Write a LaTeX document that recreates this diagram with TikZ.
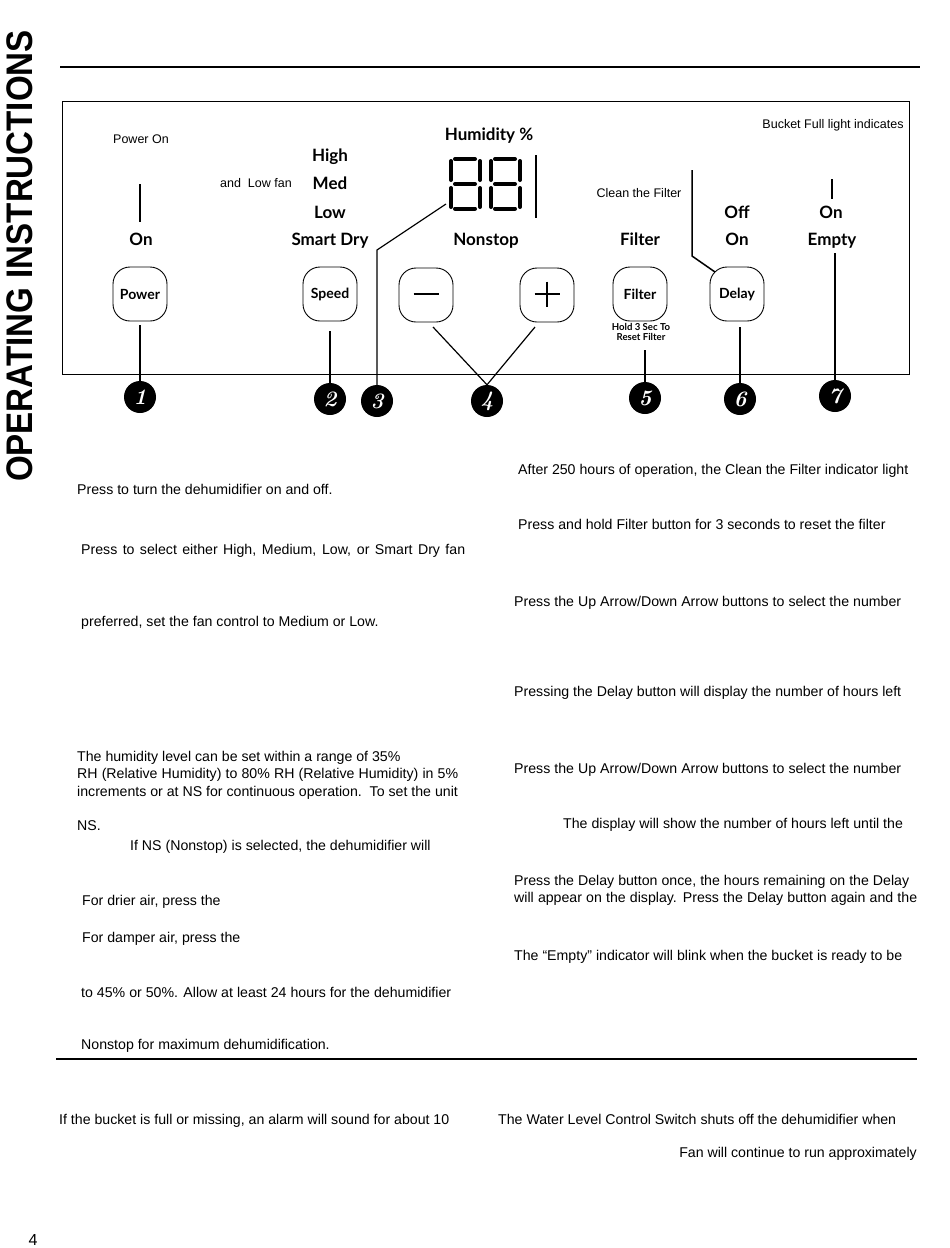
\documentclass[tikz,border=0pt]{standalone}
\usepackage{fontspec}
\newfontfamily\bodyf{Liberation Sans}
\newfontfamily\panelf{Lato}
\tikzset{
 body/.style={font=\bodyf\fontsize{14.15}{17}\selectfont, inner sep=0pt, anchor=base west},
 note/.style={font=\bodyf\fontsize{12.5}{15}\selectfont, inner sep=0pt, anchor=base},
 lbl/.style={font=\panelf\bfseries\fontsize{17}{19}\selectfont, inner sep=0pt, anchor=base},
 btn/.style={draw, line width=0.9pt, rounded corners=17pt, minimum width=54pt, minimum height=54pt, inner sep=0pt, font=\panelf\bfseries\fontsize{14}{16}\selectfont},
 num/.style={circle, fill=black, minimum size=32pt, inner sep=0pt, text=white, font=\normalfont\bfseries\itshape\fontsize{22}{22}\selectfont},
 conn/.style={line width=1.8pt},
 slim/.style={line width=1.2pt},
 seg/.style={line width=4pt, line cap=round},
 rule/.style={line width=2.3pt},
}
\begin{document}
\begin{tikzpicture}[x=1pt,y=-1pt]
\useasboundingbox[fill=white] (0,0) rectangle (950,1248);
% side title
\node[font=\bodyf\bfseries\fontsize{37}{37}\selectfont, inner sep=0pt, anchor=base, rotate=90] (title) at (32,256) {\scalebox{0.895}[1]{OPERATING INSTRUCTIONS}};
% rules
\coordinate (r1a) at (60,67); \coordinate (r1b) at (920,67);
\draw[rule] (r1a) -- (r1b);
\coordinate (r2a) at (56,1059); \coordinate (r2b) at (917,1059);
\draw[line width=2pt] (r2a) -- (r2b);
% panel
\draw[line width=1pt] (62,101) rectangle (909,374);
% ---------- Power
\node[note] (pon) at (141,143.5) {Power On};
\coordinate (p1) at (140,184); \coordinate (p2) at (140,222);
\draw[conn] (p1) -- (p2);
\node[lbl] (on1) at (141,245) {On};
\node[btn] (power) at (140,294) {Power};
\node[num] (n1) at (140,397) {1};
\draw[conn] ([yshift=-4pt]power.south) -- (n1.north);
% ---------- Speed
\node[lbl] (high) at (330,161) {High};
\node[lbl] (med) at (330,189) {Med};
\node[lbl] (low) at (330,218) {Low};
\node[lbl] (sdry) at (330,245) {Smart Dry};
\node[note] (lowfan) at (256,187.5) {and\ \ Low fan};
\node[btn] (speed) at (330,294) {Speed};
\node[num] (n2) at (330,399) {2};
\draw[conn] ([yshift=-10pt]speed.south) -- (n2.north);
% ---------- Display
\node[lbl] (hum) at (489,140) {Humidity \%};
\foreach \dx in {0,40}{
  \draw[seg] (455+\dx,159) -- (475+\dx,159);
  \draw[seg] (455+\dx,184) -- (475+\dx,184);
  \draw[seg] (455+\dx,208.5) -- (475+\dx,208.5);
  \draw[seg] (451+\dx,161) -- (451+\dx,180);
  \draw[seg] (451+\dx,188) -- (451+\dx,207);
  \draw[seg] (480+\dx,161) -- (480+\dx,180);
  \draw[seg] (480+\dx,188) -- (480+\dx,207);
}
\coordinate (bar1) at (536,155); \coordinate (bar2) at (536,218);
\draw[line width=1.5pt] (bar1) -- (bar2);
\node[lbl] (nonstop) at (486,245) {Nonstop};
\node[num] (n3) at (377,401) {3};
\coordinate (d3a) at (377,250); \coordinate (d3b) at (446,204);
\draw[slim] (n3.north) -- (d3a) -- (d3b);
% ---------- plus / minus
\node[btn] (minus) at (426,295) {};
\node[btn] (plus) at (547,295) {};
\draw[line width=2.6pt] (413.5,294) -- (438.5,294);
\draw[line width=2.6pt] (534.5,294) -- (559.5,294) (547,281.5) -- (547,306.5);
\node[num] (n4) at (487,401) {4};
\coordinate (m4) at (433,327); \coordinate (p4) at (535,327);
\draw[slim] (m4) -- (n4.north) -- (p4);
% ---------- Filter
\node[note] (clean) at (639,197.5) {Clean the Filter};
\node[lbl] (filt) at (640,245) {Filter};
\node[btn] (filter) at (640,294) {Filter};
\node[font=\panelf\bfseries\fontsize{9.6}{10.5}\selectfont, inner sep=0pt, align=center, anchor=north] (hold) at (641,323) {Hold 3 Sec To\\Reset Filter};
\node[num] (n5) at (645,398) {5};
\coordinate (f5) at (645,350);
\draw[conn] (f5) -- (n5.north);
% ---------- Delay
\node[lbl] (off) at (737,218) {Off};
\node[lbl] (on2) at (737,245) {On};
\node[btn] (delay) at (737,294) {Delay};
\node[num] (n6) at (740,399) {6};
\coordinate (dl1) at (692,170); \coordinate (dl2) at (692,256); \coordinate (dl3) at (715,272);
\draw[line width=1.5pt] (dl1) -- (dl2) -- (dl3);
\coordinate (d6) at (740,327);
\draw[conn] (d6) -- (n6.north);
% ---------- Bucket
\node[note] (bucket) at (833,128.5) {Bucket Full light indicates};
\coordinate (b1) at (832,179); \coordinate (b2) at (832,199);
\draw[conn] (b1) -- (b2);
\node[lbl] (on3) at (831,218) {On};
\node[lbl] (empty) at (832,245) {Empty};
\node[num] (n7) at (835,396) {7};
\coordinate (e7) at (835,253);
\draw[conn] (e7) -- (n7.north);
% ---------- body text left
\node[body] (t1) at (77,494) {Press to turn the dehumidifier on and off.};
\node[body] (t2) at (81,554) {\makebox[384pt][s]{Press to select either High, Medium, Low, or Smart Dry fan}};
\node[body] (t3) at (81,626) {preferred, set the fan control to Medium or Low.};
\node[body] (t4) at (77,761) {The humidity level can be set within a range of 35\%};
\node[body] (t5) at (77,778) {\makebox[381pt][s]{RH (Relative Humidity) to 80\% RH (Relative Humidity) in 5\%}};
\node[body] (t6) at (77,796) {increments or at NS for continuous operation.\ \ To set the unit};
\node[body] (t7) at (77,830) {NS.};
\node[body] (t8) at (130,850) {If NS (Nonstop) is selected, the dehumidifier will};
\node[body] (t9) at (82,905) {For drier air, press the};
\node[body] (t10) at (82,942) {For damper air, press the};
\node[body] (t11) at (81,997) {\makebox[370pt][s]{to 45\% or 50\%. Allow at least 24 hours for the dehumidifier}};
\node[body] (t12) at (81,1049) {Nonstop for maximum dehumidification.};
% ---------- body text right
\node[body] (u1) at (518,474) {After 250 hours of operation, the Clean the Filter indicator light};
\node[body] (u2) at (518,529) {Press and hold Filter button for 3 seconds to reset the filter};
\node[body] (u3) at (514,606) {\makebox[387pt][s]{Press the Up Arrow/Down Arrow buttons to select the number}};
\node[body] (u4) at (514,696) {\makebox[387pt][s]{Pressing the Delay button will display the number of hours left}};
\node[body] (u5) at (514,773) {\makebox[387pt][s]{Press the Up Arrow/Down Arrow buttons to select the number}};
\node[body] (u6) at (563,828) {The display will show the number of hours left until the};
\node[body] (u7) at (514,885) {\makebox[395pt][s]{Press the Delay button once, the hours remaining on the Delay}};
\node[body] (u8) at (514,902) {\makebox[403pt][s]{will appear on the display. Press the Delay button again and the}};
\node[body] (u9) at (514,960) {\makebox[388pt][s]{The “Empty” indicator will blink when the bucket is ready to be}};
% ---------- bottom
\node[body] (w1) at (59,1124) {If the bucket is full or missing, an alarm will sound for about 10};
\node[body] (w2) at (498,1124) {The Water Level Control Switch shuts off the dehumidifier when};
\node[body, anchor=base east] (w3) at (917,1157) {Fan will continue to run approximately};
\node[font=\bodyf\fontsize{16}{16}\selectfont, inner sep=0pt, anchor=base] (page) at (33,1245.5) {4};
\end{tikzpicture}
\end{document}
